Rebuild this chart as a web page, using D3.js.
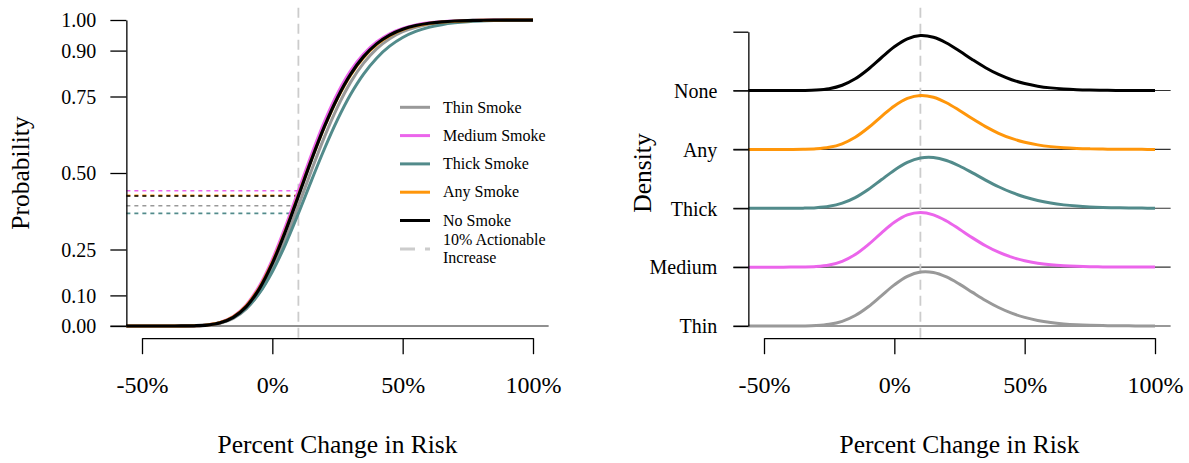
<!DOCTYPE html>
<html>
<head>
<meta charset="utf-8">
<script src="https://cdn.jsdelivr.net/npm/d3@7"></script>
<style>
    body { margin: 0; background: #fff; }
    svg { display: block; font-family: 'Liberation Serif', 'DejaVu Serif', serif; }
</style>
</head>
<body>
<script>

// percent change grid, shared by all curves
var pctGrid = [ -56, -50, -45, -40, -35, -30, -25, -20, -15, -10, -5, 0, 5, 10, 15, 20, 25, 30,
                35, 40, 45, 50, 55, 60, 65, 70, 75, 80, 85, 90, 95, 100 ];

var seriesKeys   = [ 'Thin', 'Medium', 'Thick', 'Any', 'None' ];
var legendLabels = [ 'Thin Smoke', 'Medium Smoke', 'Thick Smoke', 'Any Smoke', 'No Smoke' ];
var seriesColors = [ '#999999', '#eb65eb', '#528b8b', '#ff960a', '#000000' ];

// cumulative probability (left panel)
var cdfThin   = [ 0, 0, 0, 0, 0.0001, 0.0006, 0.0026, 0.009, 0.0245, 0.0557, 0.1082, 0.1844, 0.2818, 0.3929, 0.5084, 0.6182,
                  0.7154, 0.7961, 0.859, 0.9058, 0.9389, 0.9616, 0.9764, 0.9859, 0.9917, 0.9952, 0.9973, 0.9985, 0.9992, 0.9996, 0.9998, 0.9999 ];
var cdfMedium = [ 0, 0, 0, 0, 0.0001, 0.0008, 0.0035, 0.0116, 0.0311, 0.0689, 0.1307, 0.2173, 0.3242, 0.442, 0.5599, 0.6679,
                  0.7599, 0.8335, 0.8886, 0.9281, 0.9551, 0.9727, 0.9839, 0.9907, 0.9947, 0.9971, 0.9984, 0.9991, 0.9996, 0.9998, 0.9999, 0.9999 ];
var cdfThick  = [ 0, 0, 0, 0, 0.0002, 0.0009, 0.0035, 0.0107, 0.0269, 0.0575, 0.1071, 0.1774, 0.2663, 0.368, 0.4752, 0.5793,
                  0.6743, 0.7563, 0.8231, 0.8753, 0.9144, 0.9427, 0.9625, 0.9759, 0.9848, 0.9906, 0.9943, 0.9966, 0.998, 0.9988, 0.9993, 0.9996 ];
var cdfAny    = [ 0, 0, 0, 0, 0.0001, 0.0008, 0.0034, 0.0113, 0.030, 0.0662, 0.1253, 0.2087, 0.312, 0.4269, 0.5432, 0.6511,
                  0.7443, 0.82, 0.8776, 0.9196, 0.9488, 0.9683, 0.9809, 0.9887, 0.9935, 0.9963, 0.9979, 0.9989, 0.9994, 0.9997, 0.9998, 0.9999 ];
var cdfNone   = [ 0, 0, 0, 0, 0.0001, 0.0007, 0.003, 0.0104, 0.0282, 0.0634, 0.1216, 0.2047, 0.3088, 0.4249, 0.5427, 0.652,
                  0.7462, 0.8224, 0.8802, 0.922, 0.9508, 0.9699, 0.982, 0.9895, 0.994, 0.9967, 0.9982, 0.999, 0.9995, 0.9997, 0.9999, 0.9999 ];

// probability of an increase below the 10% threshold
var probAt10 = [ 0.3929, 0.442, 0.368, 0.4269, 0.4249 ];

// ridge heights, in row units (right panel)
var densThin   = [ 0, 0, 0, 0.0002, 0.0015, 0.0077, 0.0283, 0.0795, 0.1776, 0.3273, 0.5129, 0.6985, 0.8432, 0.9165, 0.9094, 0.8331,
                   0.7117, 0.5713, 0.4344, 0.3147, 0.2184, 0.1458, 0.0941, 0.059, 0.036, 0.0214, 0.0124, 0.0071, 0.004, 0.0022, 0.0012, 0.0006 ];
var densMedium = [ 0, 0, 0, 0.0003, 0.002, 0.01, 0.036, 0.0985, 0.2136, 0.3815, 0.5785, 0.7612, 0.8865, 0.929, 0.888, 0.7833,
                   0.644, 0.4973, 0.3637, 0.2533, 0.1691, 0.1085, 0.0673, 0.0406, 0.0238, 0.0136, 0.0076, 0.0042, 0.0023, 0.0012, 0.0006, 0.0003 ];
var densThick  = [ 0, 0, 0, 0.0004, 0.0025, 0.0107, 0.0345, 0.0878, 0.1822, 0.319, 0.4839, 0.648, 0.7794, 0.8539, 0.8628, 0.8121,
                   0.7181, 0.601, 0.4791, 0.3658, 0.2687, 0.1909, 0.1315, 0.0883, 0.0577, 0.037, 0.0232, 0.0143, 0.0086, 0.0052, 0.0031, 0.0018 ];
var densAny    = [ 0, 0, 0, 0.0003, 0.0021, 0.01, 0.0353, 0.0956, 0.2063, 0.3675, 0.5585, 0.7388, 0.867, 0.9175, 0.8874, 0.7933,
                   0.662, 0.5195, 0.3866, 0.2742, 0.1864, 0.122, 0.0774, 0.0476, 0.0284, 0.0166, 0.0095, 0.0053, 0.003, 0.0016, 0.0009, 0.0005 ];
var densNone   = [ 0, 0, 0, 0.0001, 0.0017, 0.0089, 0.0324, 0.0904, 0.1994, 0.3622, 0.5574, 0.7446, 0.8797, 0.9344, 0.9046, 0.8078,
                   0.672, 0.5249, 0.3882, 0.2732, 0.1842, 0.1194, 0.0748, 0.0455, 0.0269, 0.0155, 0.0088, 0.0048, 0.0026, 0.0014, 0.0007, 0.0004 ];

var cdfs      = [ cdfThin, cdfMedium, cdfThick, cdfAny, cdfNone ];
var densities = [ densThin, densMedium, densThick, densAny, densNone ];

var rowLabels  = [ 'Thin', 'Medium', 'Thick', 'Any', 'None' ];
var probTicks  = [ 0, 0.10, 0.25, 0.50, 0.75, 0.90, 1.00 ];
var pctTicks   = [ -50, 0, 50, 100 ];
var xLim       = [ -56, 106 ];
var threshold  = 10;

var width = 1189,
    height = 463;

var svg = d3.select('body').append('svg')
    .attr('width', width)
    .attr('height', height);

var plotTop = 7.8,
    plotBottom = 338.2;

function makeX ( offset ) {
    return d3.scaleLinear()
        .domain([ -50, 100 ])
        .range([ 142 + offset, 533 + offset ]);
}

function drawXAxis ( x ) {

    var g = svg.append('g')
        .attr('transform', 'translate(0,' + plotBottom + ')')
        .call( d3.axisBottom( x )
            .tickValues( pctTicks )
            .tickSize( 16 )
            .tickSizeOuter( 0 )
            .tickPadding( 22 )
            .tickFormat( function (d) { return d + '%'; } ) );

    g.attr('font-family', null).attr('font-size', 24);
    g.selectAll('line, path').attr('stroke', '#000').attr('stroke-width', 1.3);
    g.selectAll('text').attr('fill', '#000');

    var mid = ( x.range()[0] + x.range()[1] ) / 2;

    svg.append('text')
        .attr('x', mid)
        .attr('y', 453)
        .attr('text-anchor', 'middle')
        .attr('font-size', 25.5)
        .text('Percent Change in Risk');
}

function drawThreshold ( x ) {
    svg.append('line')
        .attr('x1', x( threshold ))
        .attr('x2', x( threshold ))
        .attr('y1', plotTop)
        .attr('y2', plotBottom)
        .attr('stroke', '#cccccc')
        .attr('stroke-width', 1.8)
        .attr('stroke-dasharray', '10,6');
}

// left panel

var xL = makeX( 0 );
var yL = d3.scaleLinear().domain([ 0, 1 ]).range([ 326, 20 ]);

svg.append('line')
    .attr('x1', xL( xLim[0] ) - 16)
    .attr('x2', xL( xLim[1] ))
    .attr('y1', yL( 0 ))
    .attr('y2', yL( 0 ))
    .attr('stroke', '#222')
    .attr('stroke-width', 1.2);

drawThreshold( xL );

probAt10.forEach( function ( p, i ) {
    svg.append('line')
        .attr('x1', xL( xLim[0] ))
        .attr('x2', xL( threshold ))
        .attr('y1', yL( p ))
        .attr('y2', yL( p ))
        .attr('stroke', seriesColors[i])
        .attr('stroke-width', 1.6)
        .attr('stroke-dasharray', '4,4');
});

var cdfLine = d3.line()
    .x( function ( d, i ) { return xL( pctGrid[i] ); } )
    .y( function ( d ) { return yL( d ); } )
    .curve( d3.curveCatmullRom.alpha( 0.5 ) );

cdfs.forEach( function ( values, i ) {
    svg.append('path')
        .attr('d', cdfLine( values ))
        .attr('fill', 'none')
        .attr('stroke', seriesColors[i])
        .attr('stroke-width', i === 4 ? 3.2 : 3);
});

var yAxisL = svg.append('g')
    .attr('transform', 'translate(' + xL( xLim[0] ) + ',0)')
    .call( d3.axisLeft( yL )
        .tickValues( probTicks )
        .tickSize( 16 )
        .tickSizeOuter( 0 )
        .tickPadding( 14 )
        .tickFormat( d3.format('.2f') ) );

yAxisL.attr('font-family', null).attr('font-size', 20);
yAxisL.selectAll('line, path').attr('stroke', '#000').attr('stroke-width', 1.3);
yAxisL.selectAll('text').attr('fill', '#000').attr('dy', '0.34em');

svg.append('text')
    .attr('transform', 'translate(29,' + yL( 0.5 ) + ') rotate(-90)')
    .attr('text-anchor', 'middle')
    .attr('font-size', 25.5)
    .text('Probability');

drawXAxis( xL );

// legend

var legend = svg.append('g');
var legendRowY = [ 107.3, 135.6, 163.9, 192.2, 220.5, 249 ];

legendLabels.forEach( function ( label, i ) {
    legend.append('line')
        .attr('x1', 400).attr('x2', 430)
        .attr('y1', legendRowY[i]).attr('y2', legendRowY[i])
        .attr('stroke', seriesColors[i])
        .attr('stroke-width', 3);
    legend.append('text')
        .attr('x', 443)
        .attr('y', legendRowY[i])
        .attr('dy', '0.33em')
        .attr('font-size', 16)
        .text( label );
});

legend.append('line')
    .attr('x1', 400).attr('x2', 430)
    .attr('y1', legendRowY[5]).attr('y2', legendRowY[5])
    .attr('stroke', '#cccccc')
    .attr('stroke-width', 3)
    .attr('stroke-dasharray', '15,10');

var lastLabel = legend.append('text')
    .attr('x', 443)
    .attr('y', legendRowY[5])
    .attr('font-size', 16);
lastLabel.append('tspan').attr('x', 443).attr('dy', '-0.27em').text('10% Actionable');
lastLabel.append('tspan').attr('x', 443).attr('dy', '1.15em').text('Increase');

// right panel

var xR = makeX( 622 );
var yR = d3.scaleLinear().domain([ 0, 5 ]).range([ 326, 31.7 ]);

rowLabels.forEach( function ( label, i ) {
    svg.append('line')
        .attr('x1', xR( xLim[0] ) - 15)
        .attr('x2', xR( xLim[1] ))
        .attr('y1', yR( i ))
        .attr('y2', yR( i ))
        .attr('stroke', '#333')
        .attr('stroke-width', 1.1);
});

drawThreshold( xR );

densities.slice().reverse().forEach( function ( values, k ) {

    var i = densities.length - 1 - k;

    var ridge = d3.line()
        .x( function ( d, j ) { return xR( pctGrid[j] ); } )
        .y( function ( d ) { return yR( i + d ); } )
        .curve( d3.curveCatmullRom.alpha( 0.5 ) );

    svg.append('path')
        .attr('d', ridge( values ))
        .attr('fill', 'none')
        .attr('stroke', seriesColors[i])
        .attr('stroke-width', 3);
});

var yAxisR = svg.append('g')
    .attr('transform', 'translate(' + xR( xLim[0] ) + ',0)')
    .call( d3.axisLeft( yR )
        .tickValues([ 0, 1, 2, 3, 4, 5 ])
        .tickSize( 15 )
        .tickSizeOuter( 0 )
        .tickPadding( 16 )
        .tickFormat( function (d) { return rowLabels[d] || ''; } ) );

yAxisR.attr('font-family', null).attr('font-size', 20);
yAxisR.selectAll('line, path').attr('stroke', '#000').attr('stroke-width', 1.3);
yAxisR.selectAll('text').attr('fill', '#000').attr('dy', '0.34em');

svg.append('text')
    .attr('transform', 'translate(' + ( 29 + 622 ) + ',' + yL( 0.5 ) + ') rotate(-90)')
    .attr('text-anchor', 'middle')
    .attr('font-size', 25.5)
    .text('Density');

drawXAxis( xR );

</script>
</body>
</html>
